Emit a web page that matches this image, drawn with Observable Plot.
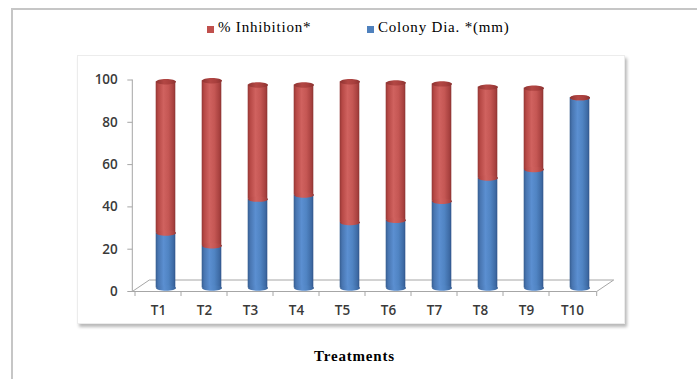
<!DOCTYPE html>
<html>
<head>
<meta charset="utf-8">
<script src="https://cdn.jsdelivr.net/npm/d3@7"></script>
<script src="https://cdn.jsdelivr.net/npm/@observablehq/plot@0.6"></script>
<style>
  body { margin: 0; background: #fff; }
  #page { position: relative; width: 697px; height: 379px; overflow: hidden; background: #fff; }
  #outer { position: absolute; left: 11px; top: 8px; width: 720px; height: 400px;
           border-top: 2px solid #c6c6c6; border-left: 2px solid #c6c6c6; }
  #plotbox { position: absolute; left: 77px; top: 55px; width: 546px; height: 267px;
             border: 1px solid #ececec; box-shadow: 2px 3px 3px rgba(0,0,0,0.28); background: #fff; }
  .legend-item { position: absolute; top: 20px; font-family: "Liberation Serif", serif; font-size: 15px;
                 line-height: 15px; letter-spacing: 0.8px; white-space: nowrap; color: #000; }
  .swatch { position: absolute; top: 26px; width: 7px; height: 7px; }
  #xtitle { position: absolute; left: 6px; top: 349px; width: 697px; text-align: center;
            font-family: "Liberation Serif", serif; font-weight: bold; font-size: 15px; line-height: 15px;
            letter-spacing: 0.8px; color: #000; }
  #page > svg { position: absolute; left: 0; top: 50px; }
</style>
</head>
<body>
<div id="page">
  <div id="outer"></div>
  <div id="plotbox"></div>
</div>
<script>
// Treatments and the two stacked series
const treatments = ["T1", "T2", "T3", "T4", "T5", "T6", "T7", "T8", "T9", "T10"];
const colonyDia = [26, 20, 42, 44, 31, 32, 41, 52, 56, 90];
const inhibition = [71.5, 78, 54, 52, 66.5, 65, 55.5, 43, 38.5, 0];
const seriesNames = ["% Inhibition*", "Colony Dia. *(mm)"];
const seriesColors = ["#c0504d", "#4f81bd"];
const yTicks = [0, 20, 40, 60, 80, 100];
const xTitle = "Treatments";

const rows = treatments.map((t, i) => ({
  treatment: t,
  colony: colonyDia[i],
  inhibition: inhibition[i],
  total: colonyDia[i] + inhibition[i]
}));

const page = document.getElementById("page");

// Legend above the chart
const legendPos = [{sw: 207, text: 218}, {sw: 367, text: 378}];
seriesNames.forEach((name, i) => {
  const sw = document.createElement("div");
  sw.className = "swatch";
  sw.style.left = legendPos[i].sw + "px";
  sw.style.background = seriesColors[i];
  page.appendChild(sw);
  const lab = document.createElement("div");
  lab.className = "legend-item";
  lab.style.left = legendPos[i].text + "px";
  lab.textContent = name;
  page.appendChild(lab);
});

// Ellipse symbol for the cylinder ends
const ellipse = {
  draw(context, size) {
    const rx = Math.sqrt(size / Math.PI), ry = rx * 0.27, k = 0.5523;
    context.moveTo(rx, 0);
    context.bezierCurveTo(rx, ry * k, rx * k, ry, 0, ry);
    context.bezierCurveTo(-rx * k, ry, -rx, ry * k, -rx, 0);
    context.bezierCurveTo(-rx, -ry * k, -rx * k, -ry, 0, -ry);
    context.bezierCurveTo(rx * k, -ry, rx, -ry * k, rx, 0);
    context.closePath();
  }
};

const bandInset = 13.2; // narrows each band to the cylinder width
const depthDx = 7.5, depthDy = -3.5; // cylinders stand mid-way across the floor

const chart = Plot.plot({
  width: 697,
  height: 285,
  marginLeft: 132.3,
  marginRight: 100.3,
  marginTop: 29.5,
  marginBottom: 44,
  x: {domain: treatments, padding: 0, axis: null},
  y: {domain: [0, 100], axis: null},
  style: {fontFamily: "'Open Sans', sans-serif", fontSize: "13.5px", fontWeight: "600",
          background: "none", overflow: "visible", color: "#3a3a3a"},
  marks: [
    Plot.axisY({ticks: yTicks, tickSize: 5, tickPadding: 10, label: null, stroke: "#a6a6a6", fill: "#3a3a3a"}),
    Plot.axisX({tickSize: 0, tickPadding: 14, label: null, fill: "#3a3a3a"}),
    // Colony diameter (bottom of each stack)
    Plot.barY(rows, {x: "treatment", y1: () => 0, y2: "colony", fill: "url(#gBlue)",
      insetLeft: bandInset, insetRight: bandInset, dx: depthDx, dy: depthDy}),
    Plot.dot(rows, {x: "treatment", y: () => 0, symbol: ellipse, r: 10, fill: "url(#gBlue)", stroke: "none",
      dx: depthDx, dy: depthDy}),
    // Inhibition stacked on top
    Plot.barY(rows, {x: "treatment", y1: "colony", y2: "total", fill: "url(#gRed)",
      insetLeft: bandInset, insetRight: bandInset, dx: depthDx, dy: depthDy}),
    Plot.dot(rows, {x: "treatment", y: "colony", symbol: ellipse, r: 10, fill: "url(#gRed)", stroke: "none",
      dx: depthDx, dy: depthDy}),
    // Top caps
    Plot.dot(rows, {x: "treatment", y: "total", symbol: ellipse, r: 10, fill: "url(#gCap)", stroke: "none",
      dx: depthDx, dy: depthDy})
  ]
});

// Cylinder shading gradients
const svg = d3.select(chart);
const defs = svg.insert("defs", ":first-child");
function gradient(id, stops) {
  const g = defs.append("linearGradient").attr("id", id)
    .attr("x1", 0).attr("x2", 1).attr("y1", 0).attr("y2", 0);
  stops.forEach(([o, c]) => g.append("stop").attr("offset", o).attr("stop-color", c));
}
gradient("gBlue", [[0, "#355c8f"], [0.12, "#4875b0"], [0.4, "#5b8fd1"], [0.65, "#5084c3"], [0.9, "#3e6ba5"], [1, "#30548a"]]);
gradient("gRed", [[0, "#933634"], [0.12, "#b64845"], [0.4, "#d0625f"], [0.65, "#c55754"], [0.9, "#a8413f"], [1, "#8c3331"]]);
gradient("gCap", [[0, "#8e3331"], [0.4, "#b34744"], [0.7, "#a83f3d"], [1, "#8a3230"]]);

// Value axis line, floor and category boundary ticks, drawn from the scales
const xs = chart.scale("x"), ys = chart.scale("y");
const x0 = xs.range[0], x1 = xs.range[1];
const y0 = ys.apply(0), yTop = ys.apply(100);
const floorDx = 17, floorDy = -11;
const axisG = svg.insert("g", "g").attr("stroke", "#a6a6a6").attr("stroke-width", 1).attr("fill", "none");
const seg = (ax, ay, bx, by) => axisG.append("line").attr("x1", ax).attr("y1", ay).attr("x2", bx).attr("y2", by);
seg(x0, y0 + 0.5, x0, yTop);
seg(x0, y0 + 0.5, x1, y0 + 0.5);
seg(x0, y0 + 0.5, x0 + floorDx, y0 + floorDy);
seg(x0 + floorDx, y0 + floorDy, x1 + floorDx, y0 + floorDy);
seg(x1, y0 + 0.5, x1 + floorDx, y0 + floorDy);
const bounds = treatments.map(t => xs.apply(t)).concat([x1]);
bounds.forEach(b => seg(b, y0 + 0.5, b, y0 + 5));

page.appendChild(chart);

const title = document.createElement("div");
title.id = "xtitle";
title.textContent = xTitle;
page.appendChild(title);
</script>
</body>
</html>
